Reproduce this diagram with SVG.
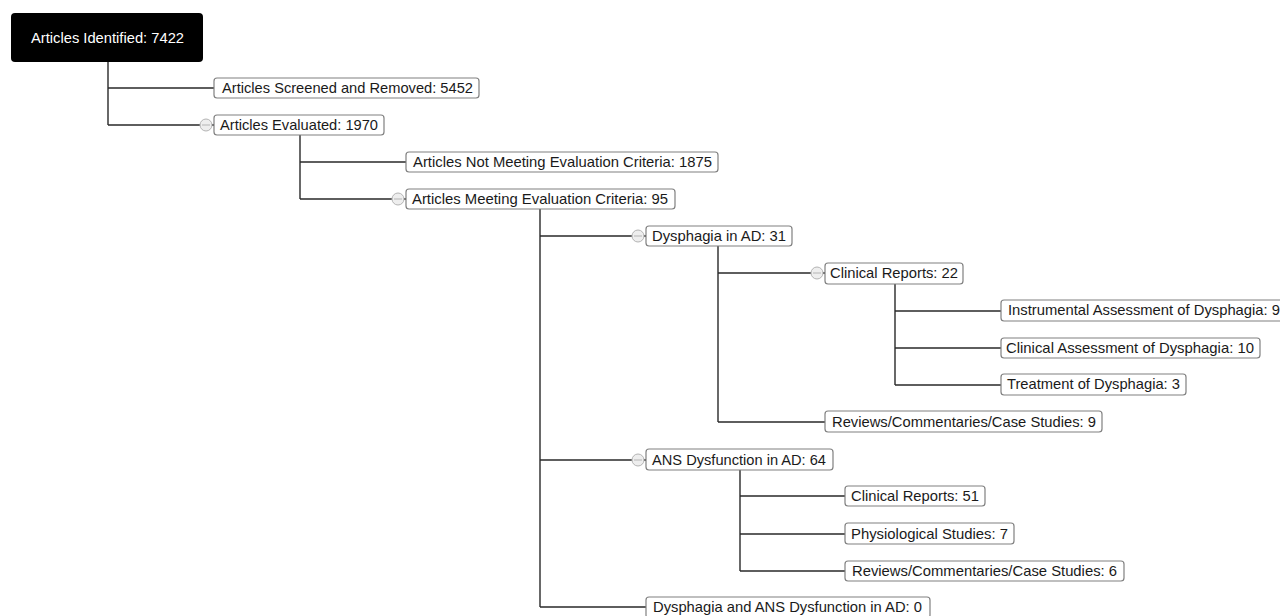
<svg xmlns="http://www.w3.org/2000/svg" width="1280" height="616" viewBox="0 0 1280 616">
<style>
.bx{fill:#fff;stroke:#808080;stroke-width:1.2}
.t{font-family:"Liberation Sans",Arial,sans-serif;font-size:14.6px;fill:#1a1a1a}
.rt{font-family:"Liberation Sans",Arial,sans-serif;font-size:14.6px;fill:#fff}
.c path{fill:none;stroke:#2a2a2a;stroke-width:1.4}
.tg circle{fill:#eee;stroke:#b4b4b4;stroke-width:1}
.tg line{stroke:#b4b4b4;stroke-width:1}
</style>
<rect width="1280" height="616" fill="#fff"/>
<g id="connectors" class="c">
<path d="M108 62V125M108 88H214M108 125H214"/>
<path d="M300 135V199M300 162H406M300 199H406"/>
<path d="M540 209V607M540 236H646M540 460H646M540 607H646"/>
<path d="M718 246V422M718 273H825M718 422H825"/>
<path d="M895 284V385M895 311H1001M895 348H1001M895 385H1001"/>
<path d="M740 470V571M740 496H845M740 534H845M740 571H845"/>
</g>
<g id="n0"><rect x="11" y="13" width="192" height="49" rx="4" fill="#000"/><text class="rt" x="31" y="43" textLength="153" lengthAdjust="spacingAndGlyphs">Articles Identified: 7422</text></g>
<g id="n1"><rect class="bx" x="214" y="78" width="265" height="20" rx="3"/><text class="t" x="222" y="93" textLength="251" lengthAdjust="spacingAndGlyphs">Articles Screened and Removed: 5452</text></g>
<g id="n2"><g class="tg"><circle cx="206" cy="125" r="6"/><line x1="202" y1="125" x2="210" y2="125"/></g><rect class="bx" x="214" y="115" width="170" height="20" rx="3"/><text class="t" x="220" y="130" textLength="158" lengthAdjust="spacingAndGlyphs">Articles Evaluated: 1970</text></g>
<g id="n3"><rect class="bx" x="406" y="152" width="312" height="20" rx="3"/><text class="t" x="413" y="167" textLength="299" lengthAdjust="spacingAndGlyphs">Articles Not Meeting Evaluation Criteria: 1875</text></g>
<g id="n4"><g class="tg"><circle cx="398" cy="199" r="6"/><line x1="394" y1="199" x2="402" y2="199"/></g><rect class="bx" x="406" y="189" width="269" height="20" rx="3"/><text class="t" x="412" y="204" textLength="256" lengthAdjust="spacingAndGlyphs">Articles Meeting Evaluation Criteria: 95</text></g>
<g id="n5"><g class="tg"><circle cx="638" cy="236" r="6"/><line x1="634" y1="236" x2="642" y2="236"/></g><rect class="bx" x="646" y="226" width="146" height="20" rx="3"/><text class="t" x="652" y="241" textLength="134" lengthAdjust="spacingAndGlyphs">Dysphagia in AD: 31</text></g>
<g id="n6"><g class="tg"><circle cx="817" cy="273" r="6"/><line x1="813" y1="273" x2="821" y2="273"/></g><rect class="bx" x="825" y="263" width="138" height="21" rx="3"/><text class="t" x="830" y="278" textLength="128" lengthAdjust="spacingAndGlyphs">Clinical Reports: 22</text></g>
<g id="n7"><rect class="bx" x="1001" y="300" width="290" height="21" rx="3"/><text class="t" x="1008" y="315" textLength="272" lengthAdjust="spacingAndGlyphs">Instrumental Assessment of Dysphagia: 9</text></g>
<g id="n8"><rect class="bx" x="1001" y="338" width="259" height="20" rx="3"/><text class="t" x="1006" y="353" textLength="248" lengthAdjust="spacingAndGlyphs">Clinical Assessment of Dysphagia: 10</text></g>
<g id="n9"><rect class="bx" x="1001" y="374" width="185" height="21" rx="3"/><text class="t" x="1007" y="389" textLength="173" lengthAdjust="spacingAndGlyphs">Treatment of Dysphagia: 3</text></g>
<g id="n10"><rect class="bx" x="825" y="411" width="277" height="21" rx="3"/><text class="t" x="832" y="427" textLength="264" lengthAdjust="spacingAndGlyphs">Reviews/Commentaries/Case Studies: 9</text></g>
<g id="n11"><g class="tg"><circle cx="638" cy="460" r="6"/><line x1="634" y1="460" x2="642" y2="460"/></g><rect class="bx" x="646" y="449" width="187" height="21" rx="3"/><text class="t" x="652" y="465" textLength="174" lengthAdjust="spacingAndGlyphs">ANS Dysfunction in AD: 64</text></g>
<g id="n12"><rect class="bx" x="845" y="486" width="140" height="20" rx="3"/><text class="t" x="851" y="501" textLength="128" lengthAdjust="spacingAndGlyphs">Clinical Reports: 51</text></g>
<g id="n13"><rect class="bx" x="845" y="523" width="169" height="21" rx="3"/><text class="t" x="851" y="539" textLength="157" lengthAdjust="spacingAndGlyphs">Physiological Studies: 7</text></g>
<g id="n14"><rect class="bx" x="845" y="561" width="279" height="20" rx="3"/><text class="t" x="852" y="576" textLength="265" lengthAdjust="spacingAndGlyphs">Reviews/Commentaries/Case Studies: 6</text></g>
<g id="n15"><rect class="bx" x="646" y="597" width="284" height="21" rx="3"/><text class="t" x="653" y="612" textLength="269" lengthAdjust="spacingAndGlyphs">Dysphagia and ANS Dysfunction in AD: 0</text></g>
</svg>
